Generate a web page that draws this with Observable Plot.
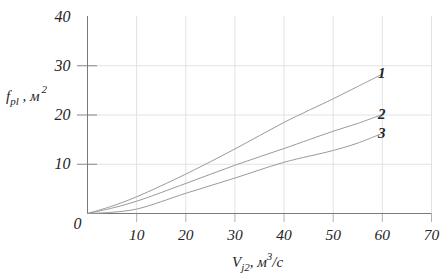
<!DOCTYPE html>
<html>
<head>
<meta charset="utf-8">
<script src="https://cdn.jsdelivr.net/npm/d3@7"></script>
<script src="https://cdn.jsdelivr.net/npm/@observablehq/plot@0.6"></script>
<style>
  html, body { margin: 0; padding: 0; background: #fff; }
  #chart { width: 441px; height: 275px; }
  #chart svg text { font-family: 'Liberation Serif', 'DejaVu Serif', serif !important; font-style: italic !important; }
</style>
</head>
<body>
<div id="chart"></div>
<script>
// Data
const vValues = [0, 5, 10, 20, 30, 40, 50, 55, 60];
const curve1 = [0, 1.5, 3.4, 8.0, 13.1, 18.5, 23.3, 25.8, 28.3];
const curve2 = [0, 1.1, 2.5, 6.1, 9.8, 13.2, 16.7, 18.3, 20.1];
const curve3 = [0, 0.25, 0.9, 4.1, 7.2, 10.4, 12.8, 14.3, 16.3];
const seriesNames = ["1", "2", "3"];
const xTicks = [10, 20, 30, 40, 50, 60, 70];
const yTicks = [10, 20, 30, 40];
const yGrid = [10, 20, 30];

const allSeries = [curve1, curve2, curve3];
const rows = allSeries.flatMap((vals, i) => vals.map((f, j) => ({s: seriesNames[i], v: vValues[j], f})));
const ends = allSeries.map((vals, i) => ({s: seriesNames[i], v: vValues[vValues.length - 1], f: vals[vals.length - 1]}));
const labelOffsets = {"1": [-11, -8], "2": [-13, -8], "3": [-10, 16]};

const font = "Liberation Serif";
const lineCol = "#9a9a9a";
const axisCol = "#7a7a7a";
const gridCol = "#e2e2e2";
const textCol = "#262626";

const chart = Plot.plot({
  width: 441,
  height: 275,
  marginLeft: 87,
  marginRight: 10,
  marginTop: 16,
  marginBottom: 62,
  x: {domain: [0, 70], axis: null},
  y: {domain: [0, 40], axis: null},
  style: {fontFamily: font, fontSize: "15px", color: textCol, background: "#fff"},
  marks: [
    Plot.gridX(xTicks, {stroke: gridCol, strokeOpacity: 1}),
    Plot.gridY(yGrid, {stroke: gridCol, strokeOpacity: 1}),
    Plot.axisX(xTicks, {tickSize: 9, tickPadding: 6, stroke: "#b0b0b0", fill: textCol, fontSize: 15.5, label: null}),
    Plot.axisY(yGrid, {tickSize: 10, stroke: "#888", text: null, label: null}),
    Plot.axisY(yGrid, {tickSize: 10, dx: 10, stroke: "#888", text: null, label: null}),
    Plot.axisY(yTicks, {tickSize: 0, tickPadding: 17, fill: textCol, fontSize: 16, label: null}),
    Plot.text([0], {x: 0, y: 0, text: d => String(d), dx: -10, dy: 10, fill: textCol, fontSize: 16}),
    Plot.ruleX([0], {stroke: axisCol}),
    Plot.ruleY([0], {stroke: axisCol}),
    Plot.line(rows, {x: "v", y: "f", z: "s", stroke: lineCol, strokeWidth: 1, curve: "catmull-rom"}),
    Plot.text(ends, {x: "v", y: "f", text: "s", dx: d => labelOffsets[d.s][0], dy: d => labelOffsets[d.s][1], fill: textCol, fontSize: 15, fontWeight: "bold"})
  ]
});

document.getElementById("chart").appendChild(chart);

// Axis titles with sub/superscripts
const svg = d3.select(chart);
const yTitle = svg.append("text")
  .attr("x", 6).attr("y", 101).attr("text-anchor", "start")
  .attr("font-size", 15).attr("fill", textCol);
yTitle.append("tspan").text("f");
yTitle.append("tspan").attr("font-size", 11).attr("dy", 4).text("pl");
yTitle.append("tspan").attr("dy", -4).text(" , м");
yTitle.append("tspan").attr("font-size", 11).attr("dy", -8).attr("dx", 2).text("2");

const xTitle = svg.append("text")
  .attr("x", 232).attr("y", 267).attr("text-anchor", "start")
  .attr("font-size", 15).attr("fill", textCol);
xTitle.append("tspan").text("V");
xTitle.append("tspan").attr("font-size", 11).attr("dy", 4).text("j2");
xTitle.append("tspan").attr("dy", -4).text(", м");
xTitle.append("tspan").attr("font-size", 11).attr("dy", -7).text("3");
xTitle.append("tspan").attr("dy", 7).text("/с");
</script>
</body>
</html>
